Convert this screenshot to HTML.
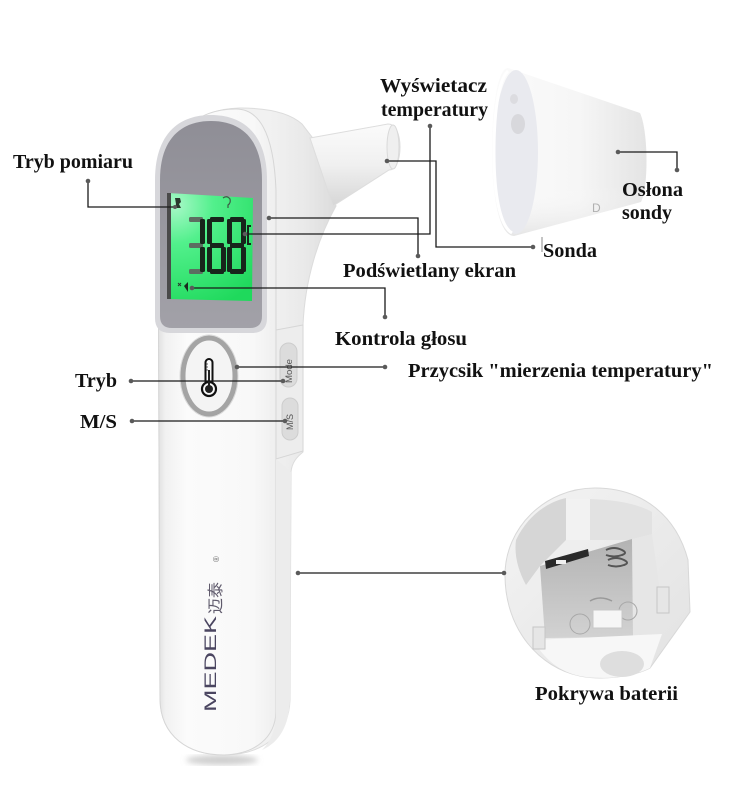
<!DOCTYPE html>
<html>
<head>
<meta charset="utf-8">
<style>
  html, body { margin: 0; padding: 0; background: #ffffff; }
  body { width: 750px; height: 785px; overflow: hidden; }
  svg { display: block; }
  .lbl { font-family: "Liberation Serif", "Noto Serif CJK SC", serif; font-weight: bold; font-size: 20px; fill: #111; }
  .ln { stroke: #1a1a1a; stroke-width: 1.3; fill: none; }
  .dt { fill: #5a5a5a; }
</style>
</head>
<body>
<svg width="750" height="785" viewBox="0 0 750 785" xmlns="http://www.w3.org/2000/svg">
  <defs>
    <linearGradient id="sideG" gradientUnits="userSpaceOnUse" x1="270" y1="0" x2="340" y2="0">
      <stop offset="0" stop-color="#f1f1f1"/>
      <stop offset="0.5" stop-color="#e9e9e9"/>
      <stop offset="1" stop-color="#dadada"/>
    </linearGradient>
    <linearGradient id="faceG" gradientUnits="userSpaceOnUse" x1="157" y1="0" x2="277" y2="0">
      <stop offset="0" stop-color="#dedede"/>
      <stop offset="0.07" stop-color="#f1f1f1"/>
      <stop offset="0.25" stop-color="#fbfbfb"/>
      <stop offset="0.8" stop-color="#f8f8f8"/>
      <stop offset="1" stop-color="#eeeeee"/>
    </linearGradient>
    <linearGradient id="screenG" x1="0" y1="0" x2="0" y2="1">
      <stop offset="0" stop-color="#8f8e96"/>
      <stop offset="1" stop-color="#a2a1a8"/>
    </linearGradient>
    <radialGradient id="lcdG" gradientUnits="userSpaceOnUse" cx="175" cy="205" r="110">
      <stop offset="0" stop-color="#a8f8c8"/>
      <stop offset="0.35" stop-color="#52f08c"/>
      <stop offset="1" stop-color="#1fd95c"/>
    </radialGradient>
    <linearGradient id="probeG" x1="0" y1="0" x2="0" y2="1">
      <stop offset="0" stop-color="#fbfbfb"/>
      <stop offset="0.5" stop-color="#f0f0f0"/>
      <stop offset="1" stop-color="#d6d6d6"/>
    </linearGradient>
    <linearGradient id="coneG" gradientUnits="userSpaceOnUse" x1="492" y1="0" x2="650" y2="0">
      <stop offset="0" stop-color="#fbfbfb"/>
      <stop offset="0.55" stop-color="#f6f6f6"/>
      <stop offset="1" stop-color="#e3e3e3"/>
    </linearGradient>
    <linearGradient id="coneV" x1="0" y1="0" x2="0" y2="1">
      <stop offset="0" stop-color="#ffffff" stop-opacity="0"/>
      <stop offset="0.7" stop-color="#ffffff" stop-opacity="0"/>
      <stop offset="1" stop-color="#d8d8d8" stop-opacity="0.6"/>
    </linearGradient>
    <linearGradient id="batG" x1="0" y1="0" x2="1" y2="1">
      <stop offset="0" stop-color="#f4f4f4"/>
      <stop offset="1" stop-color="#e2e2e2"/>
    </linearGradient>
    <linearGradient id="compG" x1="0" y1="0" x2="0" y2="1">
      <stop offset="0" stop-color="#b3b3b3"/>
      <stop offset="1" stop-color="#d2d2d2"/>
    </linearGradient>
    <filter id="blur3"><feGaussianBlur stdDeviation="3"/></filter>
  </defs>

  <!-- ===== Thermometer body ===== -->
  <ellipse cx="222" cy="760" rx="36" ry="5" fill="#cfcfcf" filter="url(#blur3)"/>
  <path d="M 158,205 C 158,150 185,109 240,108 C 268,108 290,113 302,124 L 312,137 L 336,206 C 318,238 305,280 303,325 L 303,452 C 297,457 292,462 291,472 L 290,700 C 289,736 260,755 224,755 C 188,755 161,736 160,700 Z"
        fill="url(#sideG)" stroke="#dcdcdc" stroke-width="1"/>
  <path d="M 158,205 C 158,150 185,109 236,109 C 262,109 274,140 276,190 L 276,712 C 275,738 255,754 224,755 C 188,755 161,736 160,700 Z"
        fill="url(#faceG)" stroke="#d6d6d6" stroke-width="1"/>
  <path d="M 276,330 L 303,325 L 303,451 L 276,459 Z" fill="#ededed" stroke="#d6d6d6" stroke-width="1"/>
  <path d="M 276,459 L 291,472 L 290,700 C 289,725 280,742 262,750 C 272,740 276,728 276,712 Z" fill="#ececec"/>

  <!-- probe -->
  <path d="M 310,138 L 388,124 C 396,124 400,135 400,147 C 400,160 396,170 389,170 L 333,206 Z" fill="url(#probeG)" stroke="#dddddd" stroke-width="1"/>
  <ellipse cx="393" cy="147" rx="6" ry="22" fill="#efefef" stroke="#d9d9d9" stroke-width="1"/>

  <!-- screen bezel -->
  <path d="M 155,180 C 155,136 177,115 211,115 C 245,115 267,136 267,180 L 267,318 Q 267,333 252,333 L 170,333 Q 155,333 155,318 Z" fill="#d7d7db"/>
  <path d="M 160,180 C 160,140 180,121 211,121 C 242,121 262,140 262,180 L 262,316 Q 262,328 250,328 L 172,328 Q 160,328 160,316 Z" fill="url(#screenG)"/>
  <!-- LCD -->
  <polygon points="168,193 253,198 252,301 168,299" fill="url(#lcdG)"/>
  <rect x="167" y="193" width="4" height="106" fill="#4a4a4a"/>
  <path d="M 175,198 l 5,0 l 1,4 l -2,2 l 2,4 l -6,0 l 1,-4 z" fill="#2a3a2e"/>
  <path d="M 223,198 q 4,-3 7,1 q 1,4 -2,6 l 0,3" stroke="#3d5a45" stroke-width="1.2" fill="none"/>
  <path d="M 178,283 l 3,3 m 0,-3 l -3,3" stroke="#2a3a2e" stroke-width="1"/>
  <path d="M 184,286 l 4,-4 l 0,10 z" fill="#1a2a1f"/>
  <g fill="#5c6e61">
    <rect x="189" y="217" width="14" height="5" rx="1.5"/>
    <rect x="189" y="243" width="14" height="5" rx="1.5"/>
    <rect x="189" y="269" width="14" height="5" rx="1.5"/>
  </g>
  <g fill="#17251b">
    <rect x="200" y="219" width="5" height="25" rx="1.5"/>
    <rect x="200" y="247" width="5" height="25" rx="1.5"/>
    <rect x="210" y="217" width="14" height="5" rx="1.5"/>
    <rect x="207" y="219" width="5" height="25" rx="1.5"/>
    <rect x="207" y="247" width="5" height="25" rx="1.5"/>
    <rect x="210" y="243" width="14" height="5" rx="1.5"/>
    <rect x="221" y="247" width="5" height="25" rx="1.5"/>
    <rect x="210" y="269" width="14" height="5" rx="1.5"/>
    <rect x="230" y="217" width="14" height="5" rx="1.5"/>
    <rect x="227" y="219" width="5" height="25" rx="1.5"/>
    <rect x="241" y="219" width="5" height="25" rx="1.5"/>
    <rect x="230" y="243" width="14" height="5" rx="1.5"/>
    <rect x="227" y="247" width="5" height="25" rx="1.5"/>
    <rect x="241" y="247" width="5" height="25" rx="1.5"/>
    <rect x="230" y="269" width="14" height="5" rx="1.5"/>
    <path d="M 251,226 l -3,0 l 0,18 l 3,0" stroke="#17251b" stroke-width="2" fill="none"/>
  </g>

  <!-- measure button -->
  <ellipse cx="209" cy="376" rx="29" ry="41" fill="none" stroke="#dadada" stroke-width="1"/>
  <ellipse cx="209" cy="376" rx="26" ry="38" fill="#f4f4f4" stroke="#a4a4a4" stroke-width="5"/>
  <rect x="205.5" y="359" width="7" height="26" rx="3.5" fill="#fafafa" stroke="#111" stroke-width="2"/>
  <circle cx="209" cy="389" r="7" fill="#fafafa" stroke="#111" stroke-width="2.2"/>
  <circle cx="209" cy="389" r="4" fill="#222"/>
  <rect x="208" y="370" width="2" height="17" fill="#222"/>
  <path d="M 206,364 h 2 M 206,367 h 2 M 206,370 h 2" stroke="#333" stroke-width="0.8"/>

  <!-- side pills -->
  <rect x="280" y="343" width="17" height="44" rx="8.5" fill="#dcdcdc" stroke="#cdcdcd" stroke-width="1"/>
  <text transform="translate(292,383) rotate(-90)" font-family="Liberation Sans, sans-serif" font-size="9" fill="#555" textLength="24" lengthAdjust="spacingAndGlyphs">Mode</text>
  <rect x="282" y="398" width="16" height="42" rx="8" fill="#dcdcdc" stroke="#cdcdcd" stroke-width="1"/>
  <text transform="translate(293,430) rotate(-90)" font-family="Liberation Sans, sans-serif" font-size="9" fill="#555" textLength="16" lengthAdjust="spacingAndGlyphs">M/S</text>

  <!-- logo -->
  <text transform="translate(216,712) rotate(-90)" font-family="Liberation Sans, sans-serif" font-size="17" fill="#4a4560" textLength="96" lengthAdjust="spacingAndGlyphs">MEDEK</text>
  <text transform="translate(221,614) rotate(-90)" font-family="Liberation Sans, 'Noto Sans CJK SC', sans-serif" font-size="16" fill="#5f5a6c">迈泰</text>
  <text transform="translate(219,562) rotate(-90)" font-family="Liberation Sans, sans-serif" font-size="8" fill="#6a6a6a">®</text>

  <!-- ===== Probe cover ===== -->
  <path d="M 508,68 L 640,113 C 648,130 649,185 641,202 L 514,236 C 500,236 492,200 492,152 C 492,104 498,68 508,68 Z" fill="url(#coneG)"/>
  <path d="M 508,68 L 640,113 C 648,130 649,185 641,202 L 514,236 C 500,236 492,200 492,152 C 492,104 498,68 508,68 Z" fill="url(#coneV)"/>
  <ellipse cx="516" cy="152" rx="22" ry="82" fill="#e9eaef"/>
  <path d="M 508,71 C 498,80 494,115 494,152 C 494,195 500,226 512,233" stroke="#ffffff" stroke-width="3" fill="none"/>
  <ellipse cx="518" cy="124" rx="7" ry="10" fill="#d8d8dc"/>
  <ellipse cx="514" cy="99" rx="4" ry="5" fill="#dcdce0"/>
  <text x="592" y="212" font-family="Liberation Sans, sans-serif" font-size="12" fill="#b0b0b0">D</text>
  <line x1="542" y1="237" x2="542" y2="252" stroke="#888" stroke-width="1"/>

  <!-- ===== Battery cover ===== -->
  <path d="M 505,575 C 505,528 545,488 595,488 C 642,488 676,515 688,560 L 690,612 L 650,668 C 630,678 600,680 580,676 C 540,668 505,630 505,575 Z" fill="url(#batG)" stroke="#d8d8d8" stroke-width="1"/>
  <path d="M 516,540 C 528,515 548,502 566,498 L 566,540 L 540,566 L 526,585 C 518,570 514,555 516,540 Z" fill="#d6d6d6"/>
  <rect x="566" y="499" width="24" height="41" fill="#f2f2f2"/>
  <path d="M 590,499 C 620,500 640,505 652,512 L 652,540 L 590,540 Z" fill="#e2e2e2"/>
  <path d="M 632,539 L 652,534 L 664,620 L 633,637 Z" fill="#e6e6e6"/>
  <polygon points="540,566 632,539 633,637 545,638" fill="url(#compG)"/>
  <polygon points="545,561 588,549 589,556 546,569" fill="#2a2a2a"/>
  <rect x="556" y="560" width="10" height="4" fill="#f0f0f0"/>
  <path d="M 606,550 q 8,-4 16,0 q 6,3 0,5 q -8,3 -16,0 M 608,560 q 8,-4 16,0 q 6,3 0,5 q -8,3 -16,0" stroke="#555" stroke-width="2" fill="none"/>
  <circle cx="580" cy="624" r="10" fill="none" stroke="#a8a8a8" stroke-width="1"/>
  <circle cx="628" cy="611" r="9" fill="none" stroke="#a8a8a8" stroke-width="1"/>
  <path d="M 590,601 q 10,-6 22,0" stroke="#999" stroke-width="1.5" fill="none"/>
  <rect x="593" y="610" width="29" height="18" fill="#f6f6f6" stroke="#c8c8c8" stroke-width="1"/>
  <path d="M 533,640 L 662,634 L 650,668 C 630,678 600,680 580,676 C 560,672 545,660 533,640 Z" fill="#f7f7f7"/>
  <ellipse cx="622" cy="664" rx="22" ry="13" fill="#dedede"/>
  <rect x="533" y="627" width="12" height="22" fill="#e6e6e6" stroke="#c6c6c6" stroke-width="1"/>
  <rect x="657" y="587" width="12" height="26" fill="#e6e6e6" stroke="#c6c6c6" stroke-width="1"/>

  <!-- ===== Connector lines ===== -->
  <polyline class="ln" points="88,181 88,207 175,207"/>
  <circle class="dt" cx="88" cy="181" r="2.3"/>
  <circle class="dt" cx="175" cy="207" r="2"/>
  <polyline class="ln" points="430,126 430,234 245,234"/>
  <circle class="dt" cx="430" cy="126" r="2.3"/>
  <circle class="dt" cx="245" cy="234" r="2.3"/>
  <polyline class="ln" points="269,218 418,218 418,256"/>
  <circle class="dt" cx="269" cy="218" r="2.3"/>
  <circle class="dt" cx="418" cy="256" r="2.3"/>
  <polyline class="ln" points="387,161 436,161 436,247 533,247"/>
  <circle class="dt" cx="387" cy="161" r="2.3"/>
  <circle class="dt" cx="533" cy="247" r="2.3"/>
  <polyline class="ln" points="618,152 677,152 677,170"/>
  <circle class="dt" cx="618" cy="152" r="2.3"/>
  <circle class="dt" cx="677" cy="170" r="2.3"/>
  <polyline class="ln" points="192,288 385,288 385,317"/>
  <circle class="dt" cx="192" cy="288" r="2.3"/>
  <circle class="dt" cx="385" cy="317" r="2.3"/>
  <polyline class="ln" points="237,367 385,367"/>
  <circle class="dt" cx="237" cy="367" r="2.3"/>
  <circle class="dt" cx="385" cy="367" r="2.3"/>
  <polyline class="ln" points="131,381 283,381"/>
  <circle class="dt" cx="131" cy="381" r="2.3"/>
  <circle class="dt" cx="283" cy="381" r="2.3"/>
  <polyline class="ln" points="132,421 285,421"/>
  <circle class="dt" cx="132" cy="421" r="2.3"/>
  <circle class="dt" cx="285" cy="421" r="2.3"/>
  <polyline class="ln" points="298,573 504,573"/>
  <circle class="dt" cx="298" cy="573" r="2.3"/>
  <circle class="dt" cx="504" cy="573" r="2.3"/>

  <!-- ===== Labels ===== -->
  <text class="lbl" x="13" y="168" textLength="120" lengthAdjust="spacingAndGlyphs">Tryb pomiaru</text>
  <text class="lbl" x="380" y="92" textLength="107" lengthAdjust="spacingAndGlyphs">Wyświetacz</text>
  <text class="lbl" x="381" y="116" textLength="107" lengthAdjust="spacingAndGlyphs">temperatury</text>
  <text class="lbl" x="622" y="196" textLength="61" lengthAdjust="spacingAndGlyphs">Osłona</text>
  <text class="lbl" x="622" y="219" textLength="50" lengthAdjust="spacingAndGlyphs">sondy</text>
  <text class="lbl" x="543" y="257" textLength="54" lengthAdjust="spacingAndGlyphs">Sonda</text>
  <text class="lbl" x="343" y="277" textLength="173" lengthAdjust="spacingAndGlyphs">Podświetlany ekran</text>
  <text class="lbl" x="335" y="345" textLength="132" lengthAdjust="spacingAndGlyphs">Kontrola głosu</text>
  <text class="lbl" x="408" y="377" textLength="305" lengthAdjust="spacingAndGlyphs">Przycsik "mierzenia temperatury"</text>
  <text class="lbl" x="75" y="387" textLength="42" lengthAdjust="spacingAndGlyphs">Tryb</text>
  <text class="lbl" x="80" y="428" textLength="37" lengthAdjust="spacingAndGlyphs">M/S</text>
  <text class="lbl" x="535" y="700" textLength="143" lengthAdjust="spacingAndGlyphs">Pokrywa baterii</text>
</svg>
</body>
</html>
